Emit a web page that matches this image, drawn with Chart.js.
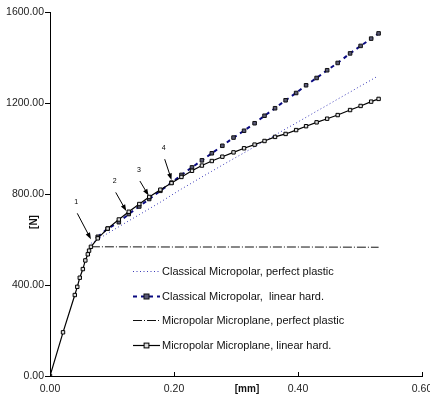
<!DOCTYPE html>
<html>
<head>
<meta charset="utf-8">
<script src="https://cdn.jsdelivr.net/npm/chart.js@4.4.1/dist/chart.umd.min.js"></script>
<style>
  html, body { margin: 0; padding: 0; background: #fff; }
  #chart { display: block; }
</style>
</head>
<body>
<canvas id="chart" width="430" height="399"></canvas>
<script>
// Данные
const seriesNames = [
  "Classical Micropolar, perfect plastic",
  "Classical Micropolar,  linear hard.",
  "Micropolar Microplane, perfect plastic",
  "Micropolar Microplane, linear hard."
];

// упругая ветка (общая)
const elasticX = [0, 0.021, 0.040, 0.044, 0.048, 0.053, 0.057, 0.061, 0.063, 0.066];
const elasticY = [0, 192, 356, 392, 432, 470, 508, 535, 551, 568];

// шаги по перемещению после текучести
const hardX = [0.066, 0.077, 0.093, 0.111, 0.127, 0.144, 0.160, 0.178, 0.196, 0.212, 0.229,
  0.245, 0.261, 0.278, 0.296, 0.313, 0.330, 0.346, 0.363, 0.380, 0.397, 0.413,
  0.430, 0.447, 0.464, 0.484, 0.501, 0.518, 0.530];

const classicalPlasticX = [0.066, 0.077, 0.093, 0.111, 0.127, 0.144, 0.160, 0.178, 0.196, 0.212,
  0.229, 0.245, 0.261, 0.278, 0.296, 0.313, 0.330, 0.346, 0.363, 0.380, 0.397,
  0.413, 0.430, 0.447, 0.464, 0.484, 0.501, 0.518, 0.526];
const classicalPlasticY = [583, 600, 627, 656, 682, 709, 735, 764, 795, 822, 849, 875, 900, 927,
  955, 981, 1008, 1033, 1059, 1086, 1112, 1137, 1164, 1190, 1217, 1248, 1275, 1301, 1314];

const classicalHardY = [568, 612, 648, 676, 712, 745, 778, 814, 850, 884, 917, 948, 979, 1012,
  1048, 1078, 1111, 1144, 1177, 1212, 1244, 1278, 1310, 1344, 1376, 1418, 1451, 1483, 1506];

const microPlasticX = [0.066, 0.200, 0.400, 0.530];
const microPlasticY = [568, 567, 567, 566];

const microHardY = [568, 605, 648, 688, 722, 756, 787, 819, 848, 875, 902, 925, 945, 964,
  983, 1001, 1017, 1033, 1051, 1064, 1081, 1098, 1115, 1131, 1147, 1169, 1187, 1206, 1218];

const xTicks = [0, 0.2, 0.4, 0.6];
const yTicks = [0, 400, 800, 1200, 1600];

// стрелки с номерами: [номер, хвост x, хвост y, острие x, острие y]
const arrowLabels = ["1", "2", "3", "4"];
const arrowTailX = [0.044, 0.106, 0.145, 0.185];
const arrowTailY = [715, 807, 857, 953];
const arrowTipX = [0.066, 0.123, 0.159, 0.196];
const arrowTipY = [601, 725, 793, 862];

function zip(xs, ys) {
  return xs.map((x, i) => ({ x: x, y: ys[i] }));
}

const FONT = "'Liberation Sans', Arial, sans-serif";

const datasets = [
  {
    label: seriesNames[0],
    data: zip(classicalPlasticX, classicalPlasticY),
    borderColor: "#3a3ab8",
    borderWidth: 1,
    borderDash: [1, 2.5],
    pointRadius: 0,
    order: 4
  },
  {
    label: seriesNames[1],
    data: zip(hardX.slice(1), classicalHardY.slice(1)),
    borderColor: "#0a0a80",
    borderWidth: 2,
    borderDash: [4, 4],
    pointStyle: "rect",
    pointRadius: 2.5,
    pointBackgroundColor: "#5a5a78",
    pointBorderColor: "#111",
    pointBorderWidth: 1,
    order: 2
  },
  {
    label: seriesNames[2],
    data: zip(microPlasticX, microPlasticY),
    borderColor: "#111",
    borderWidth: 1,
    borderDash: [9, 2, 1, 2],
    pointRadius: 0,
    order: 3
  },
  {
    label: seriesNames[3],
    data: zip(elasticX.concat(hardX.slice(1)), elasticY.concat(microHardY.slice(1))),
    borderColor: "#000",
    borderWidth: 1.2,
    pointStyle: "rect",
    pointRadius: 2.4,
    pointBackgroundColor: "#ddd",
    pointBorderColor: "#000",
    pointBorderWidth: 1,
    order: 1
  }
];

// Подписи осей, внутренние засечки X, стрелки и легенда
const extras = {
  id: "extras",
  afterDraw(chart) {
    const ctx = chart.ctx;
    const xs = chart.scales.x;
    const ys = chart.scales.y;
    const area = chart.chartArea;
    ctx.save();

    // засечки X внутрь
    ctx.strokeStyle = "#000";
    ctx.lineWidth = 1;
    xs.ticks.forEach((t, i) => {
      const px = Math.round(xs.getPixelForTick(i)) + 0.5;
      ctx.beginPath();
      ctx.moveTo(px, area.bottom);
      ctx.lineTo(px, area.bottom - 4);
      ctx.stroke();
    });

    // заголовки осей
    ctx.fillStyle = "#111";
    ctx.font = "bold 10px " + FONT;
    ctx.textAlign = "center";
    ctx.textBaseline = "middle";
    ctx.fillText("[mm]", 247, 389);
    ctx.save();
    ctx.translate(34, 222);
    ctx.rotate(-Math.PI / 2);
    ctx.fillText("[N]", 0, 0);
    ctx.restore();

    // стрелки
    ctx.font = "7px " + FONT;
    arrowLabels.forEach((lab, i) => {
      const x0 = xs.getPixelForValue(arrowTailX[i]);
      const y0 = ys.getPixelForValue(arrowTailY[i]);
      const x1 = xs.getPixelForValue(arrowTipX[i]);
      const y1 = ys.getPixelForValue(arrowTipY[i]);
      const ang = Math.atan2(y1 - y0, x1 - x0);
      ctx.strokeStyle = "#000";
      ctx.fillStyle = "#000";
      ctx.lineWidth = 1;
      ctx.beginPath();
      ctx.moveTo(x0, y0);
      ctx.lineTo(x1 - 4 * Math.cos(ang), y1 - 4 * Math.sin(ang));
      ctx.stroke();
      ctx.beginPath();
      ctx.moveTo(x1, y1);
      ctx.lineTo(x1 - 7 * Math.cos(ang - 0.35), y1 - 7 * Math.sin(ang - 0.35));
      ctx.lineTo(x1 - 7 * Math.cos(ang + 0.35), y1 - 7 * Math.sin(ang + 0.35));
      ctx.closePath();
      ctx.fill();
      ctx.fillText(lab, x0 - 1, y0 - 11);
    });

    // легенда
    const rowsY = [271, 296, 320, 345];
    ctx.font = "11px " + FONT;
    ctx.textAlign = "left";
    chart.data.datasets.forEach((ds, i) => {
      const y = rowsY[i] + 0.5;
      ctx.strokeStyle = ds.borderColor;
      ctx.lineWidth = ds.borderWidth;
      ctx.setLineDash(ds.borderDash || []);
      ctx.beginPath();
      ctx.moveTo(133, y);
      ctx.lineTo(160, y);
      ctx.stroke();
      ctx.setLineDash([]);
      if (ds.pointRadius) {
        const r = ds.pointRadius;
        ctx.fillStyle = ds.pointBackgroundColor;
        ctx.strokeStyle = ds.pointBorderColor;
        ctx.lineWidth = 1;
        ctx.fillRect(146.5 - r, y - r, 2 * r, 2 * r);
        ctx.strokeRect(146.5 - r, y - r, 2 * r, 2 * r);
      }
      ctx.fillStyle = "#111";
      ctx.fillText(ds.label, 162, rowsY[i] + 1);
    });

    ctx.restore();
  }
};

new Chart(document.getElementById("chart"), {
  type: "line",
  data: { datasets: datasets },
  options: {
    responsive: false,
    devicePixelRatio: 1,
    animation: false,
    layout: { padding: { top: 12, right: 8, bottom: 0, left: 0 } },
    plugins: { legend: { display: false }, tooltip: { enabled: false } },
    elements: { line: { tension: 0, fill: false } },
    scales: {
      x: {
        type: "linear",
        min: xTicks[0],
        max: xTicks[xTicks.length - 1],
        afterBuildTicks(scale) { scale.ticks = xTicks.map((v) => ({ value: v })); },
        ticks: {
          callback: (v) => Number(v).toFixed(2),
          font: { family: FONT, size: 10.5 },
          color: "#222",
          padding: 7,
          maxRotation: 0
        },
        grid: { display: true, drawOnChartArea: false, drawTicks: false },
        border: { display: true, color: "#000", width: 1 },
        afterFit(scale) {
          scale.height = 23;
          scale.paddingLeft = 0;
          scale.paddingRight = 0;
        }
      },
      y: {
        type: "linear",
        min: yTicks[0],
        max: yTicks[yTicks.length - 1],
        afterBuildTicks(scale) { scale.ticks = yTicks.map((v) => ({ value: v })); },
        ticks: {
          callback: (v) => Number(v).toFixed(2),
          font: { family: FONT, size: 10.5 },
          color: "#222",
          padding: 1
        },
        grid: { display: true, drawOnChartArea: false, drawTicks: true, tickLength: 5, color: "#000" },
        border: { display: true, color: "#000", width: 1 },
        afterFit(scale) {
          scale.width = 50;
          scale.paddingTop = 0;
          scale.paddingBottom = 0;
        }
      }
    }
  },
  plugins: [extras]
});
</script>
</body>
</html>
